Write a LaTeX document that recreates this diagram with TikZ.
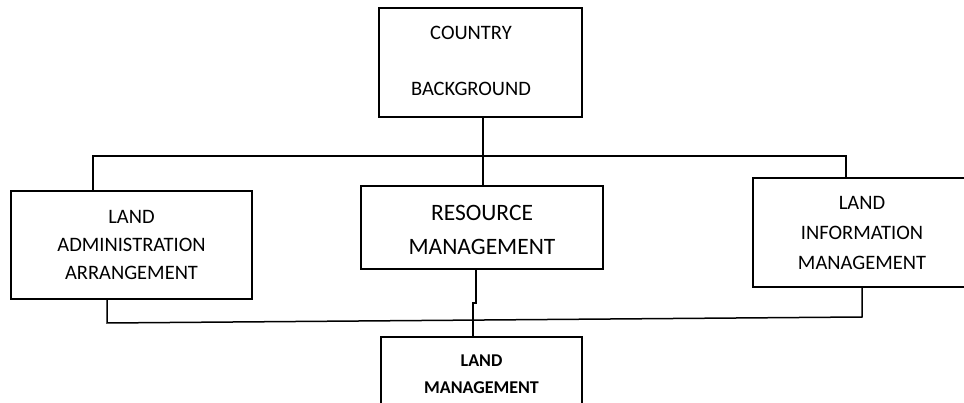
\documentclass[tikz,border=0pt]{standalone}
\usepackage{fontspec}
\setmainfont{Carlito}
\begin{document}
\begin{tikzpicture}[x=1pt,y=-1pt,
  box/.style={draw=black,line width=1.5pt,rectangle,inner sep=0pt,outer sep=0pt},
  txt/.style={align=center,inner sep=0pt,font=\fontsize{20.5}{28}\selectfont},
  bigtxt/.style={align=center,inner sep=0pt,font=\fontsize{23.5}{34}\selectfont},
  smalltxt/.style={align=center,inner sep=0pt,font=\fontsize{18}{27}\selectfont\bfseries},
  conn/.style={line width=1.5pt}]
\useasboundingbox (0,0) rectangle (964,403);
\clip (0,0) rectangle (964,403);
% boxes
\node[box,minimum width=203pt,minimum height=109pt] (country) at (480.5,62.5) {};
\node[box,minimum width=241pt,minimum height=108pt] (admin) at (131.5,245) {};
\node[box,minimum width=242pt,minimum height=83pt] (resource) at (482,227.5) {};
\node[box,minimum width=218pt,minimum height=109pt] (info) at (862,232.5) {};
\node[box,minimum width=201pt,minimum height=83pt] (landm) at (481.5,378.5) {};
% texts
\node[txt] (countryT) at (471,61) {COUNTRY\\[28pt]BACKGROUND};
\node[txt] (adminT) at (131.5,245) {LAND\\ADMINISTRATION\\ARRANGEMENT};
\node[bigtxt] (resourceT) at (482,230) {RESOURCE\\MANAGEMENT};
\node[txt,font=\fontsize{20.5}{30}\selectfont] (infoT) at (862,233) {LAND\\INFORMATION\\MANAGEMENT};
\node[smalltxt] (landmT) at (481.5,374.5) {LAND\\MANAGEMENT};
% connector coordinates
\coordinate (stem) at (483,156);
\coordinate (busL) at (93,156);
\coordinate (busR) at (846,156);
\coordinate (botL) at (107,323);
\coordinate (botR) at (862,317);
\coordinate (jogA) at (476,303);
\coordinate (jogB) at (473,303);
% connectors
\draw[conn] (country.south -| stem) -- (resource.north -| stem);
\draw[conn] (admin.north -| busL) -- (busL) -- (busR) -- (info.north -| busR);
\draw[conn] (admin.south -| botL) -- (botL) -- (botR) -- (info.south -| botR);
\draw[conn] (resource.south -| jogA) -- (jogA) -- (jogB) -- (landm.north -| jogB);
\end{tikzpicture}
\end{document}
